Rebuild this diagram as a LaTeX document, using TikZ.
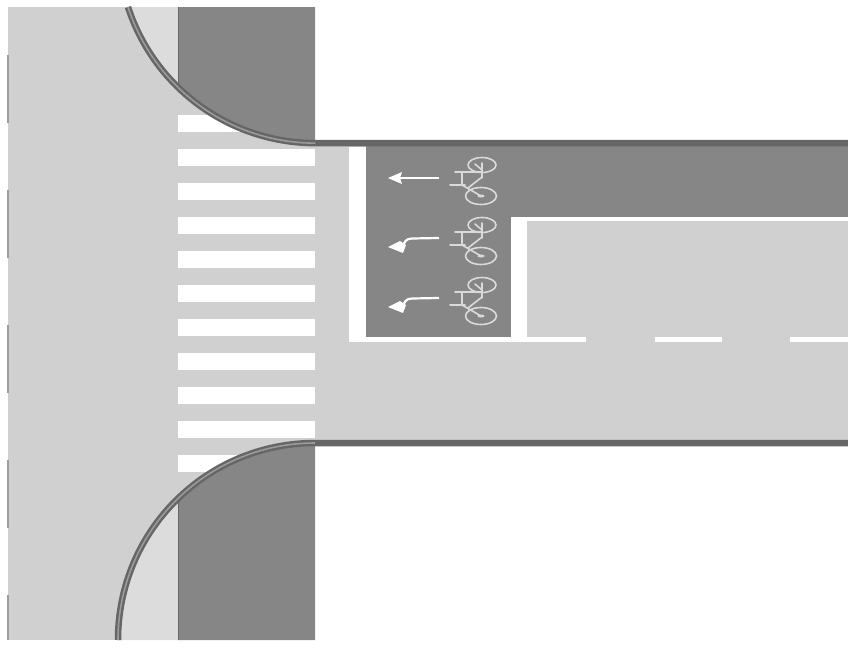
\documentclass[tikz,border=0pt]{standalone}
\definecolor{roadgrey}{HTML}{D0D0D0}
\definecolor{cornergrey}{HTML}{DCDCDC}
\definecolor{lanegrey}{HTML}{868686}
\definecolor{kerbdark}{HTML}{666666}
\definecolor{kerbmid}{HTML}{9A9A9A}
\definecolor{edgegrey}{HTML}{9C9C9C}
\definecolor{bikeline}{HTML}{DADADA}
\tikzset{
  road/.style={fill=roadgrey,draw=none},
  corner/.style={fill=cornergrey,draw=none},
  lane/.style={fill=lanegrey,draw=none},
  paint/.style={fill=white,draw=none},
  kerbout/.style={draw=kerbdark,line width=6.5pt},
  kerbin/.style={draw=kerbmid,line width=1.6pt},
  edgedash/.style={draw=edgegrey,line width=2.4pt},
  bikestroke/.style={draw=bikeline,line width=1.6pt,line cap=round,line join=round},
  arrowstroke/.style={draw=white,line width=2.2pt},
  arrowhead/.style={fill=white,draw=none}
}
\newcommand{\bikeat}[2]{%
  \begin{scope}[shift={(#1,#2)}]
    \draw[bikestroke] (0,0) ellipse[x radius=14,y radius=7.5];
    \draw[bikestroke] (-1,31) ellipse[x radius=15.5,y radius=8.5];
    \fill[bikeline] (-1,31) ellipse[x radius=3.5,y radius=1.5];
    \draw[bikestroke] (0,-2) -- (0,13) (-27,7) -- (0,7) (-20,7) -- (-20,20)
      (-32,20) -- (-17,20) (-20,20) -- (-1,31) (-14,23) -- (0,12) (-7,-1) -- (0,5);
  \end{scope}}
\begin{document}
\begin{tikzpicture}[x=1pt,y=-1pt]
\useasboundingbox (0,0) rectangle (848,648);
% road surface
\fill[road] (8,7) rectangle (315,640);
\fill[road] (315,143) rectangle (848,443);
% zebra crossing
\foreach \yy in {115,149,183,217,251,285,319,353,387,421,455}
  \fill[paint] (178,\yy) rectangle (315,\yy+17);
% corner strips
\fill[corner] (178,7) -- (128,7) arc[start angle=162,end angle=134,radius=197] -- cycle;
\fill[corner] (178,640) -- (118,640) arc[start angle=180,end angle=226,radius=197] -- cycle;
% dark blocks
\fill[lane] (178,7) -- (315,7) -- (315,143) arc[start angle=90,end angle=134,radius=197] -- cycle;
\fill[lane] (178,640) -- (315,640) -- (315,443) arc[start angle=270,end angle=226,radius=197] -- cycle;
\draw[kerbdark,line width=1pt] (178,7) -- (178,85);
\draw[kerbdark,line width=1pt] (178,640) -- (178,501);
% white painted box and cycle lane
\fill[paint] (349,147) rectangle (366,342);
\fill[paint] (349,337) rectangle (586,342);
\fill[paint] (655,337) rectangle (722,342);
\fill[paint] (790,337) rectangle (848,342);
\fill[lane] (366,146) rectangle (848,217);
\fill[lane] (366,217) rectangle (511,337);
\fill[paint] (511,217) rectangle (848,221);
\fill[paint] (511,217) rectangle (527,337);
% kerbs
\draw[kerbout] (128,7) arc[start angle=162,end angle=90,radius=197] -- (848,143);
\draw[kerbout] (118,640) arc[start angle=180,end angle=270,radius=197] -- (848,443);
\draw[kerbin] (128,7) arc[start angle=162,end angle=90,radius=197];
\draw[kerbin] (118,640) arc[start angle=180,end angle=270,radius=197];
% road edge dashes
\foreach \yy in {55,190,325,460}
  \draw[edgedash] (8,\yy) -- (8,\yy+68);
\draw[edgedash] (8,595) -- (8,640);
% arrows
\draw[arrowstroke] (439,178) -- (398,178);
\fill[arrowhead] (388,178) -- (402,172) -- (400,178) -- (402,184) -- cycle;
\foreach \yy in {238,298} {
  \draw[arrowstroke] (439,\yy) -- (412,\yy+0.5) .. controls (406,\yy+0.5) and (404,\yy+4) .. (403,\yy+9);
  \fill[arrowhead] (388,\yy+9) -- (400,\yy+3) -- (406,\yy+7) -- (403,\yy+15) -- cycle;
}
% bicycles
\bikeat{482}{165}
\bikeat{482}{225}
\bikeat{482}{285}
\end{tikzpicture}
\end{document}
